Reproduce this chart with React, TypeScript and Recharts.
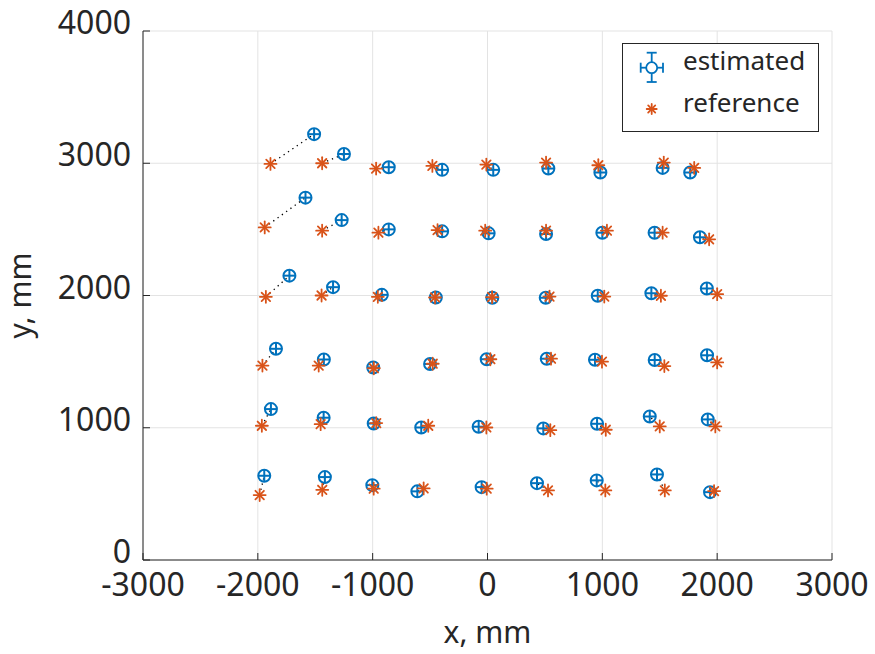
import React from "react";
import { ScatterChart, Scatter, XAxis, YAxis, CartesianGrid, ReferenceLine } from "recharts";

const W = 875;
const H = 654;
const AX = "#262626";
const BLUE = "#0072BD";
const ORANGE = "#D95319";
const FONT = '"Noto Sans", "DejaVu Sans", sans-serif';

const xTicks = [-3000, -2000, -1000, 0, 1000, 2000, 3000];
const yTicks = [0, 1000, 2000, 3000, 4000];

// reference grid positions, one line per row (top row first)
const refX = [
  -1890, -1440, -970, -480, -10, 510, 965, 1535, 1800,
  -1940, -1440, -950, -435, -20, 510, 1040, 1525, 1930,
  -1930, -1445, -955, -457, 40, 540, 1017, 1510, 2000,
  -1960, -1470, -990, -477, 25, 553, 997, 1540, 2000,
  -1965, -1453, -969, -516, -10, 547, 1030, 1500, 1984,
  -1984, -1439, -991, -556, -7, 527, 1026, 1544, 1973,
];
const refY = [
  2995, 3000, 2960, 2980, 2990, 3005, 2985, 3005, 2965,
  2515, 2490, 2475, 2495, 2490, 2490, 2490, 2475, 2425,
  1990, 2000, 1990, 1985, 1987, 1992, 1992, 1998, 2010,
  1470, 1470, 1450, 1484, 1518, 1522, 1500, 1466, 1494,
  1015, 1027, 1035, 1015, 1002, 982, 985, 1010, 1010,
  491, 531, 539, 541, 539, 526, 526, 526, 521,
];

// estimated positions, same order as the reference points
const estX = [
  -1510, -1250, -860, -395, 50, 530, 983, 1525, 1765,
  -1585, -1270, -860, -395, 10, 510, 1000, 1455, 1850,
  -1725, -1345, -920, -450, 42, 507, 960, 1427, 1910,
  -1842, -1425, -995, -500, -7, 516, 936, 1456, 1912,
  -1886, -1427, -991, -577, -77, 486, 954, 1413, 1918,
  -1944, -1416, -1003, -611, -51, 431, 951, 1476, 1938,
];
const estY = [
  3220, 3070, 2970, 2950, 2950, 2960, 2930, 2965, 2930,
  2740, 2570, 2500, 2485, 2470, 2465, 2475, 2475, 2440,
  2150, 2063, 2005, 1985, 1983, 1983, 1998, 2017, 2053,
  1597, 1516, 1456, 1482, 1518, 1522, 1514, 1512, 1548,
  1141, 1076, 1032, 1002, 1008, 995, 1030, 1085, 1063,
  637, 627, 566, 519, 551, 581, 602, 647, 513,
];

const refData = refX.map((x, i) => ({ x, y: refY[i] }));
const estData = estX.map((x, i) => ({ x, y: estY[i] }));

const TICK_LEN = 7;

function BottomTick(props: any) {
  const { x, y, payload } = props;
  return (
    <g>
      <line x1={x} y1={y} x2={x} y2={y - TICK_LEN} stroke={AX} strokeWidth={1} />
      <text x={x} y={y + 36} textAnchor="middle" fill={AX} fontSize={32} fontFamily={FONT}>
        {payload.value}
      </text>
    </g>
  );
}

function LeftTick(props: any) {
  const { x, y, payload } = props;
  return (
    <g>
      <line x1={x} y1={y} x2={x + TICK_LEN} y2={y} stroke={AX} strokeWidth={1} />
      <text x={x - 12} y={y + 3} textAnchor="end" fill={AX} fontSize={32} fontFamily={FONT}>
        {payload.value}
      </text>
    </g>
  );
}

function TopTick(props: any) {
  const { x, y } = props;
  return <line x1={x} y1={y} x2={x} y2={y + TICK_LEN} stroke={AX} strokeWidth={1} />;
}

function RightTick(props: any) {
  const { x, y } = props;
  return <line x1={x} y1={y} x2={x - TICK_LEN} y2={y} stroke={AX} strokeWidth={1} />;
}

function Asterisk({ cx, cy, r = 6 }: { cx: number; cy: number; r?: number }) {
  const d = r * Math.SQRT1_2;
  return (
    <g stroke={ORANGE} strokeWidth={1.8} strokeLinecap="round">
      <line x1={cx - r} y1={cy} x2={cx + r} y2={cy} />
      <line x1={cx} y1={cy - r} x2={cx} y2={cy + r} />
      <line x1={cx - d} y1={cy - d} x2={cx + d} y2={cy + d} />
      <line x1={cx - d} y1={cy + d} x2={cx + d} y2={cy - d} />
    </g>
  );
}

function EstMarker({ cx, cy }: { cx: number; cy: number }) {
  const r = 6;
  return (
    <g stroke={BLUE} strokeWidth={2} fill="none">
      <circle cx={cx} cy={cy} r={r} />
      <line x1={cx - r} y1={cy} x2={cx + r} y2={cy} />
      <line x1={cx} y1={cy - r} x2={cx} y2={cy + r} />
    </g>
  );
}

function LegendBox() {
  return (
    <svg
      width={197}
      height={89}
      style={{ position: "absolute", left: 622, top: 43, background: "#fff" }}
    >
      <rect x={0.5} y={0.5} width={196} height={88} fill="#fff" stroke={AX} strokeWidth={1} />
      <g stroke={BLUE} strokeWidth={1.8} fill="none">
        <line x1={29.7} y1={9.7} x2={29.7} y2={39} />
        <line x1={24.7} y1={9.7} x2={34.7} y2={9.7} />
        <line x1={24.7} y1={39} x2={34.7} y2={39} />
        <line x1={18.7} y1={24.7} x2={41} y2={24.7} />
        <line x1={18.7} y1={19.7} x2={18.7} y2={29.7} />
        <line x1={41} y1={19.7} x2={41} y2={29.7} />
        <circle cx={29.7} cy={24.7} r={5.5} fill="#fff" />
      </g>
      <Asterisk cx={29.7} cy={66} r={5} />
      <text x={61} y={26.5} fill={AX} fontSize={26} fontFamily={FONT}>
        estimated
      </text>
      <text x={61} y={68.7} fill={AX} fontSize={26} fontFamily={FONT}>
        reference
      </text>
    </svg>
  );
}

export default function App() {
  return (
    <div style={{ position: "absolute", left: 0, top: 0, width: W, height: H, background: "#fff" }}>
      <ScatterChart width={W} height={H} margin={{ top: 31, right: 43, bottom: 0, left: 0 }}>
        <CartesianGrid stroke="#e3e3e3" strokeWidth={1} />
        <XAxis
          type="number"
          dataKey="x"
          domain={[-3000, 3000]}
          ticks={xTicks}
          interval={0}
          height={94}
          tickSize={0}
          tickMargin={0}
          axisLine={{ stroke: AX }}
          tickLine={false}
          tick={<BottomTick />}
          label={{
            content: (p: any) => {
              const vb = p.viewBox;
              return (
                <text x={vb.x + vb.width / 2} y={vb.y + 83} textAnchor="middle" fill={AX} fontSize={30} fontFamily={FONT}>
                  x, mm
                </text>
              );
            },
          }}
        />
        <YAxis
          type="number"
          dataKey="y"
          domain={[0, 4000]}
          ticks={yTicks}
          interval={0}
          width={143}
          tickSize={0}
          tickMargin={0}
          axisLine={{ stroke: AX }}
          tickLine={false}
          tick={<LeftTick />}
          label={{
            content: (p: any) => {
              const vb = p.viewBox;
              const cy = vb.y + vb.height / 2;
              return (
                <text
                  x={31}
                  y={cy}
                  transform={`rotate(-90 31 ${cy})`}
                  textAnchor="middle"
                  fill={AX}
                  fontSize={30}
                  fontFamily={FONT}
                >
                  y, mm
                </text>
              );
            },
          }}
        />
        <XAxis
          xAxisId="top"
          orientation="top"
          type="number"
          domain={[-3000, 3000]}
          ticks={xTicks}
          interval={0}
          height={0}
          tickSize={0}
          tickMargin={0}
          axisLine={{ stroke: AX }}
          tickLine={false}
          tick={<TopTick />}
          allowDataOverflow
        />
        <YAxis
          yAxisId="right"
          orientation="right"
          type="number"
          domain={[0, 4000]}
          ticks={yTicks}
          interval={0}
          width={0}
          tickSize={0}
          tickMargin={0}
          axisLine={{ stroke: AX }}
          tickLine={false}
          tick={<RightTick />}
          allowDataOverflow
        />
        <Scatter
          name="estimated"
          data={estData}
          isAnimationActive={false}
          shape={(p: any) => <EstMarker cx={p.cx} cy={p.cy} />}
        />
        <Scatter
          name="reference"
          data={refData}
          isAnimationActive={false}
          shape={(p: any) => <Asterisk cx={p.cx} cy={p.cy} />}
        />
        {refData.map((r, i) => (
          <ReferenceLine
            key={i}
            segment={[
              { x: r.x, y: r.y },
              { x: estData[i].x, y: estData[i].y },
            ]}
            stroke="#000"
            strokeWidth={1.3}
            strokeDasharray="1.3 4"
          />
        ))}
      </ScatterChart>
      <LegendBox />
    </div>
  );
}
